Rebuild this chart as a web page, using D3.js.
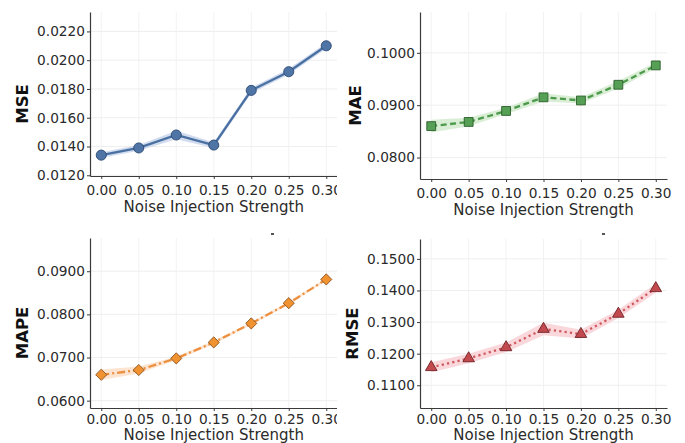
<!DOCTYPE html>
<html>
<head>
<meta charset="utf-8">
<script src="https://cdn.jsdelivr.net/npm/d3@7"></script>
<style>
  body { margin: 0; background: #fff; }
  svg { display: block; font-family: "DejaVu Sans", sans-serif; }
</style>
</head>
<body>
<svg id="chart" width="685" height="443"></svg>
<script>
// noise strengths on the x axis
const strengths = [0.00, 0.05, 0.10, 0.15, 0.20, 0.25, 0.30];

// metric means and spread
const mse     = [0.0134, 0.0139, 0.0148, 0.0141, 0.0179, 0.0192, 0.0210];
const mseStd  = [0.0002, 0.0002, 0.0003, 0.0002, 0.0002, 0.0002, 0.0002];
const mae     = [0.0860, 0.0868, 0.0889, 0.0915, 0.0909, 0.0939, 0.0976];
const maeStd  = [0.0012, 0.0008, 0.0006, 0.0008, 0.0006, 0.0007, 0.0006];
const mape    = [0.0660, 0.0671, 0.0698, 0.0735, 0.0779, 0.0826, 0.0881];
const mapeStd = [0.0012, 0.0008, 0.0004, 0.0004, 0.0003, 0.0003, 0.0003];
const rmse    = [0.1157, 0.1185, 0.1220, 0.1278, 0.1262, 0.1326, 0.1407];
const rmseStd = [0.0016, 0.0015, 0.0015, 0.0020, 0.0014, 0.0013, 0.0014];

// tick labels
const xTicks    = [0.00, 0.05, 0.10, 0.15, 0.20, 0.25, 0.30];
const mseTicks  = [0.0120, 0.0140, 0.0160, 0.0180, 0.0200, 0.0220];
const maeTicks  = [0.0800, 0.0900, 0.1000];
const mapeTicks = [0.0600, 0.0700, 0.0800, 0.0900];
const rmseTicks = [0.1100, 0.1200, 0.1300, 0.1400, 0.1500];

const xLabel = "Noise Injection Strength";

// diamond = square turned 45 degrees, like matplotlib's "D"
const diamond = {
  draw(ctx, size) {
    const r = Math.sqrt(size / 2);
    ctx.moveTo(0, -r); ctx.lineTo(r, 0); ctx.lineTo(0, r); ctx.lineTo(-r, 0); ctx.closePath();
  }
};

// one entry per subplot
const panels = [
  { name: "MSE", vals: mse, std: mseStd, ticks: mseTicks, domain: [0.01195, 0.02335],
    left: 90, right: 337.5, top: 12, bottom: 176, clip: true, tickPad: 3, labelOff: 36,
    line: "#4a70a2", band: "#c9d6ec", fill: "#4f74a6", edge: "#2c4a74",
    dash: null, cap: "butt", symbol: d3.symbolCircle, size: 80, labelX: 22 },
  { name: "MAE", vals: mae, std: maeStd, ticks: maeTicks, domain: [0.0759, 0.1078],
    left: 420, right: 667, top: 12, bottom: 179, clip: false, tickPad: 3, labelOff: 36,
    line: "#4c9a4c", band: "#d3ebcf", fill: "#55a055", edge: "#2b5e2b",
    dash: "6,3.5", cap: "butt", symbol: d3.symbolSquare, size: 78, labelX: 355 },
  { name: "MAPE", vals: mape, std: mapeStd, ticks: mapeTicks, domain: [0.0583, 0.0977],
    left: 90, right: 337.5, top: 238, bottom: 408, clip: true, tickPad: 0, labelOff: 32,
    line: "#ec9040", band: "#fddfc8", fill: "#f0922f", edge: "#8a5222",
    dash: "8,3,2,3", cap: "butt", symbol: diamond, size: 62, labelX: 22 },
  { name: "RMSE", vals: rmse, std: rmseStd, ticks: rmseTicks, domain: [0.1028, 0.1563],
    left: 420, right: 667, top: 239, bottom: 408, clip: false, tickPad: 0, labelOff: 32,
    line: "#d0585e", band: "#f8d0d4", fill: "#c24a4f", edge: "#6e2326",
    dash: "2.2,3.2", cap: "butt", symbol: d3.symbolTriangle, size: 58, labelX: 352 }
];

const svg = d3.select("#chart");

svg.append("defs").append("clipPath").attr("id", "leftClip")
  .append("rect").attr("x", 0).attr("y", 0).attr("width", 337).attr("height", 443);

panels.forEach(p => {
  const g = svg.append("g");
  if (p.clip) g.attr("clip-path", "url(#leftClip)");

  const x = d3.scaleLinear().domain([-0.015, 0.315]).range([p.left, p.right]);
  const y = d3.scaleLinear().domain(p.domain).range([p.bottom, p.top]);

  // grid
  g.selectAll(".hgrid").data(p.ticks).join("line")
    .attr("x1", p.left).attr("x2", p.right)
    .attr("y1", d => y(d)).attr("y2", d => y(d))
    .attr("stroke", "#ececec").attr("stroke-width", 0.9);
  g.selectAll(".vgrid").data(xTicks).join("line")
    .attr("x1", d => x(d)).attr("x2", d => x(d))
    .attr("y1", p.top).attr("y2", p.bottom)
    .attr("stroke", "#f1f1f1").attr("stroke-width", 0.9);

  const data = strengths.map((s, i) => ({ s: s, v: p.vals[i], e: p.std[i] }));

  // std band
  g.append("path").datum(data)
    .attr("fill", p.band).attr("opacity", 0.85)
    .attr("d", d3.area().x(d => x(d.s)).y0(d => y(d.v - d.e)).y1(d => y(d.v + d.e)));

  // line
  g.append("path").datum(data)
    .attr("fill", "none").attr("stroke", p.line).attr("stroke-width", 2.3)
    .attr("stroke-dasharray", p.dash).attr("stroke-linecap", p.cap)
    .attr("d", d3.line().x(d => x(d.s)).y(d => y(d.v)));

  // markers
  g.selectAll(".mk").data(data).join("path")
    .attr("transform", d => `translate(${x(d.s)},${y(d.v)})`)
    .attr("d", d3.symbol().type(p.symbol).size(p.size))
    .attr("fill", p.fill).attr("stroke", p.edge).attr("stroke-width", 0.9);

  // axes
  const xAxis = g.append("g").attr("transform", `translate(0,${p.bottom})`)
    .call(d3.axisBottom(x).tickValues(xTicks).tickFormat(d3.format(".2f"))
      .tickSize(3).tickSizeOuter(0).tickPadding(p.tickPad));
  const yAxis = g.append("g").attr("transform", `translate(${p.left},0)`)
    .call(d3.axisLeft(y).tickValues(p.ticks).tickFormat(d3.format(".4f")).tickSize(3).tickSizeOuter(0));

  [xAxis, yAxis].forEach(a => {
    a.select(".domain").attr("stroke", "#3a3a3a").attr("stroke-width", 1.2);
    a.selectAll(".tick line").attr("stroke", "#3a3a3a");
    a.selectAll(".tick text").attr("fill", "#2a2a2a").style("font-size", "13.7px")
      .style("font-family", "DejaVu Sans, sans-serif");
  });
  xAxis.selectAll(".tick text").attr("dy", "0.95em");
  yAxis.selectAll(".tick text").attr("x", -5);

  // axis titles
  g.append("text")
    .attr("x", (x(0) + x(0.3)) / 2).attr("y", p.bottom + p.labelOff)
    .attr("text-anchor", "middle").attr("fill", "#2a2a2a")
    .style("font-size", "15px").text(xLabel);

  g.append("text")
    .attr("transform", `translate(${p.labelX + 6},${(p.top + p.bottom) / 2 + 10}) rotate(-90)`)
    .attr("text-anchor", "middle").attr("fill", "#111")
    .style("font-size", "16.5px").style("font-weight", "bold").text(p.name);
});

// small leftover marks from cropped titles
svg.selectAll(".crumb").data([271, 602]).join("rect")
  .attr("x", d => d).attr("y", 233).attr("width", 3).attr("height", 2).attr("fill", "#555");
</script>
</body>
</html>
